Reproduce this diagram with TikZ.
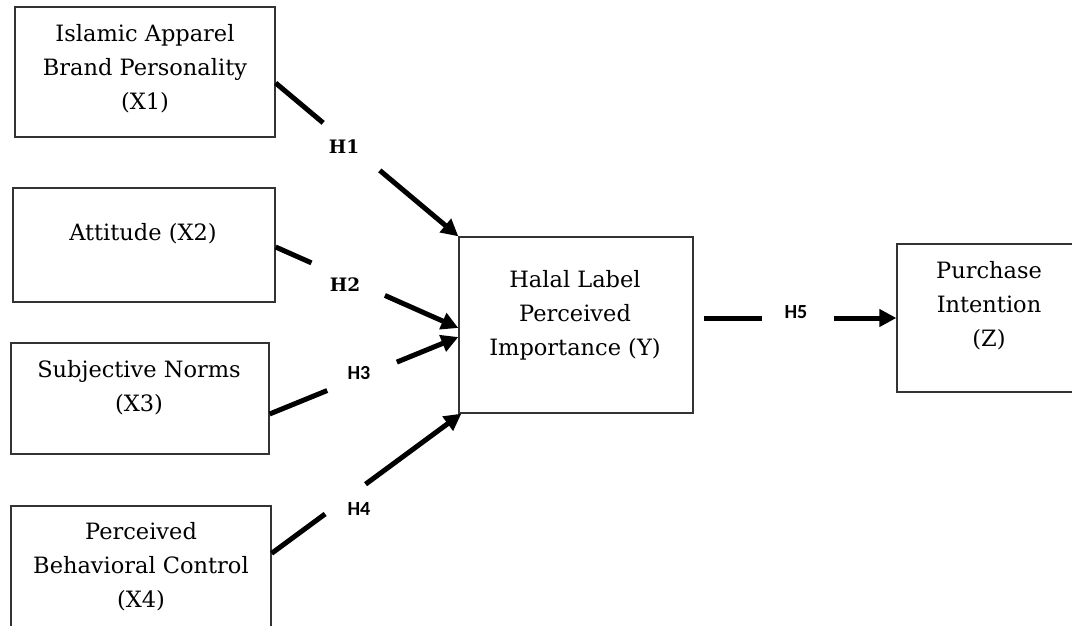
\documentclass[tikz,border=0pt]{standalone}
\usepackage{fontspec}
\setmainfont{DejaVu Serif}
\newfontfamily\hsans{Carlito}
\usetikzlibrary{arrows.meta,calc}
\tikzset{
  box/.style={draw=black!80, line width=1.3pt, fill=none, inner sep=0pt, minimum width=#1},
  txt/.style={align=center, inner sep=0pt, font=\fontsize{22.5}{34}\selectfont},
  conn/.style={line width=5pt, black},
  arr/.style={line width=5pt, black, -{Triangle[length=17pt,width=17pt]}},
  hser/.style={inner sep=0pt, font=\fontsize{18.5}{20}\selectfont\bfseries},
  hsf/.style={inner sep=0pt, font=\fontsize{20}{20}\hsans\bfseries},
}
\begin{document}
\begin{tikzpicture}[x=1pt,y=-1pt]
\clip (0,0) rectangle (1072,626);
\useasboundingbox (0,0) rectangle (1072,626);
% boxes
\node[box=260pt, minimum height=130pt] (X1) at (145,72) {};
\node[box=262pt, minimum height=114pt] (X2) at (144,245) {};
\node[box=258pt, minimum height=111pt] (X3) at (140,398.5) {};
\node[box=260pt, minimum height=134pt] (X4) at (141,573) {};
\node[box=234pt, minimum height=176pt] (Y) at (576,325) {};
\node[box=184pt, minimum height=148pt] (Z) at (989,318) {};
% texts
\node[txt] (X1t) at (145,69) {Islamic Apparel\\Brand Personality\\(X1)};
\node[txt] (X2t) at (143,234) {Attitude (X2)};
\node[txt] (X3t) at (139,388) {Subjective Norms\\(X3)};
\node[txt] (X4t) at (141,567) {Perceived\\Behavioral Control\\(X4)};
\node[txt] (Yt) at (575,315) {Halal Label\\Perceived\\Importance (Y)};
\node[txt] (Zt) at (989,306) {Purchase\\Intention\\(Z)};
% labels
\node[hser] (h1) at (344,147) {H1};
\node[hser] (h2) at (345,285) {H2};
\node[hsf] (h3) at (359,373) {H3};
\node[hsf] (h4) at (359,509) {H4};
\node[hsf] (h5) at (796,312) {H5};
% endpoints
\coordinate (s1) at ([yshift=-11pt]X1.east);
\coordinate (t1) at (Y.north west);
\coordinate (s2) at ([yshift=-2pt]X2.east);
\coordinate (t2) at ([yshift=-3pt]Y.west);
\coordinate (s3) at ([yshift=-15.5pt]X3.east);
\coordinate (t3) at ([yshift=-12pt]Y.west);
\coordinate (s4) at ([yshift=-48pt]X4.north east);
\coordinate (t4) at ([xshift=3pt]Y.south west);
\coordinate (s5) at ([xshift=10pt,yshift=7pt]Y.east);
\coordinate (t5) at (Z.west);
% connectors
\draw[conn] (s1) -- ($(s1)!0.26!(t1)$);
\draw[arr] ($(s1)!0.57!(t1)$) -- (t1);
\draw[conn] (s2) -- ($(s2)!0.196!(t2)$);
\draw[arr] ($(s2)!0.598!(t2)$) -- (t2);
\draw[conn] (s3) -- ($(s3)!0.305!(t3)$);
\draw[arr] ($(s3)!0.674!(t3)$) -- (t3);
\draw[conn] (s4) -- ($(s4)!0.282!(t4)$);
\draw[arr] ($(s4)!0.495!(t4)$) -- (t4);
\draw[conn] (s5) -- ($(s5)!0.304!(t5)$);
\draw[arr] ($(s5)!0.675!(t5)$) -- (t5);
\end{tikzpicture}
\end{document}
